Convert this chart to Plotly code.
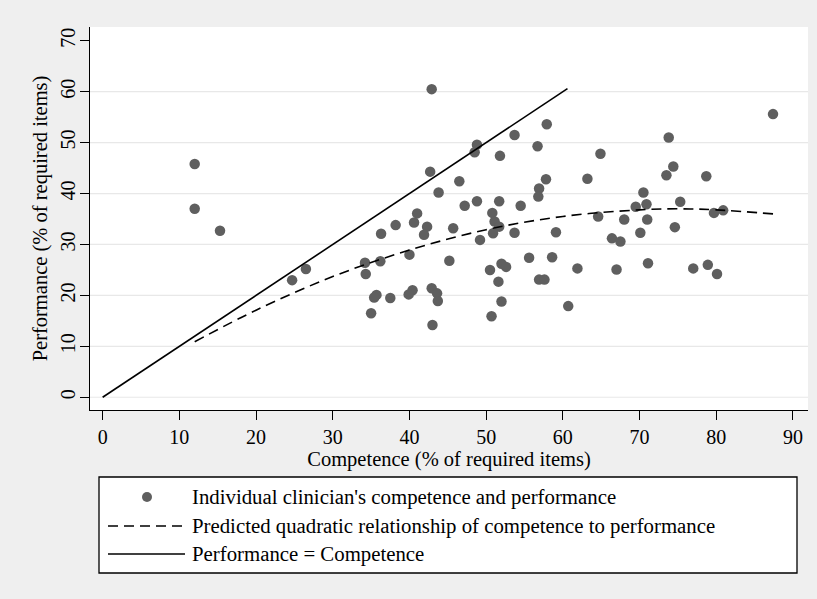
import plotly.graph_objects as go

# ---- data ----
competence = [12.0, 12.0, 15.3, 24.7, 26.5, 42.9, 57.9, 53.7, 48.8, 48.5, 56.7, 51.8, 42.7, 46.5, 57.8,
              43.8, 56.9, 56.8, 47.2, 48.8, 51.7, 54.5, 41.0, 50.8, 40.6, 42.3, 51.1, 51.7, 38.2, 36.3,
              41.9, 45.7, 50.9, 53.7, 59.1, 49.2, 40.0, 34.2, 36.2, 34.3, 45.2, 52.0, 52.6, 55.6, 58.6,
              50.5, 51.6, 56.9, 57.6, 35.7, 35.4, 37.5, 40.4, 39.9, 42.9, 43.6, 43.7, 52.0, 35.0, 50.7,
              43.0, 87.4, 73.8, 64.9, 74.4, 73.5, 78.7, 63.2, 70.5, 75.3, 70.9, 69.5, 80.9, 79.7, 64.6,
              68.0, 71.0, 74.6, 70.1, 66.4, 67.5, 71.1, 61.9, 67.0, 77.0, 78.9, 80.1, 60.7]
performance = [45.8, 37.0, 32.7, 23.0, 25.2, 60.5, 53.6, 51.5, 49.6, 48.1, 49.3, 47.4, 44.3, 42.4, 42.8,
               40.2, 41.0, 39.4, 37.6, 38.5, 38.5, 37.6, 36.1, 36.2, 34.3, 33.5, 34.5, 33.5, 33.8, 32.1,
               31.9, 33.2, 32.2, 32.3, 32.4, 30.9, 28.0, 26.4, 26.7, 24.2, 26.8, 26.2, 25.6, 27.4, 27.5,
               25.0, 22.7, 23.1, 23.1, 20.1, 19.6, 19.5, 21.0, 20.2, 21.4, 20.4, 18.9, 18.8, 16.5, 15.9,
               14.2, 55.6, 51.0, 47.8, 45.3, 43.6, 43.4, 42.9, 40.2, 38.4, 37.9, 37.4, 36.7, 36.2, 35.5,
               34.9, 34.9, 33.4, 32.3, 31.2, 30.6, 26.3, 25.3, 25.1, 25.3, 26.0, 24.2, 17.9]

# predicted quadratic curve
fit_x = [12, 20, 30, 40, 50, 60, 70, 75, 80, 87.4]
fit_y = [10.9, 17.1, 23.7, 28.9, 32.9, 35.5, 36.8, 37.0, 36.8, 36.0]

# identity line
ident_x = [0, 60.6]
ident_y = [0, 60.6]

x_ticks = [0, 10, 20, 30, 40, 50, 60, 70, 80, 90]
y_ticks = [0, 10, 20, 30, 40, 50, 60, 70]
y_grid = [0, 10, 20, 30, 40, 50, 60]

x_title = "Competence (% of required items)"
y_title = "Performance (% of required items)"
legend_labels = ["Individual clinician's competence and performance",
                 "Predicted quadratic relationship of competence to performance",
                 "Performance = Competence"]

FONT = "'Liberation Serif', 'Times New Roman', Times, serif"
DOT = "#5f5f5f"
BG = "#efefef"

fig = go.Figure()
fig.add_trace(go.Scatter(x=competence, y=performance, mode="markers",
                         marker=dict(color=DOT, size=10.5, line=dict(width=0)),
                         name=legend_labels[0], showlegend=False))
fig.add_trace(go.Scatter(x=fit_x, y=fit_y, mode="lines", line_shape="spline",
                         line=dict(color="black", width=1.6, dash="10px,6px"),
                         name=legend_labels[1], showlegend=False))
fig.add_trace(go.Scatter(x=ident_x, y=ident_y, mode="lines",
                         line=dict(color="black", width=1.6),
                         name=legend_labels[2], showlegend=False))

shapes = []
for g in y_grid:
    shapes.append(dict(type="line", xref="paper", x0=0, x1=1, yref="y", y0=g, y1=g,
                       line=dict(color="#e8e8e8", width=1.2), layer="below"))

# legend box (paper coordinates)
L, R, T, B = 90, 808, 27, 410
def px(p):
    return (p - L) / (R - L)
def py(p):
    return (B - p) / (B - T)

shapes.append(dict(type="rect", xref="paper", yref="paper",
                   x0=px(99), x1=px(797), y0=py(573), y1=py(477),
                   line=dict(color="black", width=1.3), fillcolor="white", layer="below"))
rows = [497, 526, 554]
shapes.append(dict(type="circle", xref="paper", yref="paper",
                   xsizemode="pixel", ysizemode="pixel",
                   xanchor=px(147), yanchor=py(rows[0]), x0=-5, x1=5, y0=-5, y1=5,
                   fillcolor=DOT, line=dict(width=0)))
shapes.append(dict(type="line", xref="paper", yref="paper",
                   x0=px(108), x1=px(185), y0=py(rows[1]), y1=py(rows[1]),
                   line=dict(color="black", width=1.6, dash="10px,6px")))
shapes.append(dict(type="line", xref="paper", yref="paper",
                   x0=px(108), x1=px(185), y0=py(rows[2]), y1=py(rows[2]),
                   line=dict(color="black", width=1.6)))

annotations = []
for lab, r in zip(legend_labels, rows):
    annotations.append(dict(text=lab, xref="paper", yref="paper", x=px(190), y=py(r),
                            xanchor="left", yanchor="middle", showarrow=False,
                            font=dict(family=FONT, size=20.8, color="black")))

fig.update_layout(
    width=817, height=599,
    margin=dict(l=L, r=817 - R, t=T, b=599 - B),
    paper_bgcolor=BG, plot_bgcolor="white",
    font=dict(family=FONT, size=20, color="black"),
    showlegend=False,
    shapes=shapes, annotations=annotations,
    xaxis=dict(range=[-1.65, 91.96], tickvals=x_ticks, ticks="outside", ticklen=9,
               tickcolor="black", tickwidth=1.2, showline=True, linecolor="black", linewidth=1.3,
               showgrid=False, zeroline=False, automargin=False,
               tickfont=dict(family=FONT, size=20),
               title=dict(text=x_title, standoff=1, font=dict(family=FONT, size=20.5))),
    yaxis=dict(range=[-2.5, 72.7], tickvals=y_ticks, ticks="outside", ticklen=9,
               tickcolor="black", tickwidth=1.2, showline=True, linecolor="black", linewidth=1.3,
               showgrid=False, zeroline=False, automargin=False, tickangle=-90,
               ticklabelstandoff=-3,
               tickfont=dict(family=FONT, size=20),
               title=dict(text=y_title, standoff=3, font=dict(family=FONT, size=20.5))),
)

fig.write_html("out.html", config={"displayModeBar": False},
               post_script="document.body.style.margin='0';document.body.style.background='" + BG + "';")
